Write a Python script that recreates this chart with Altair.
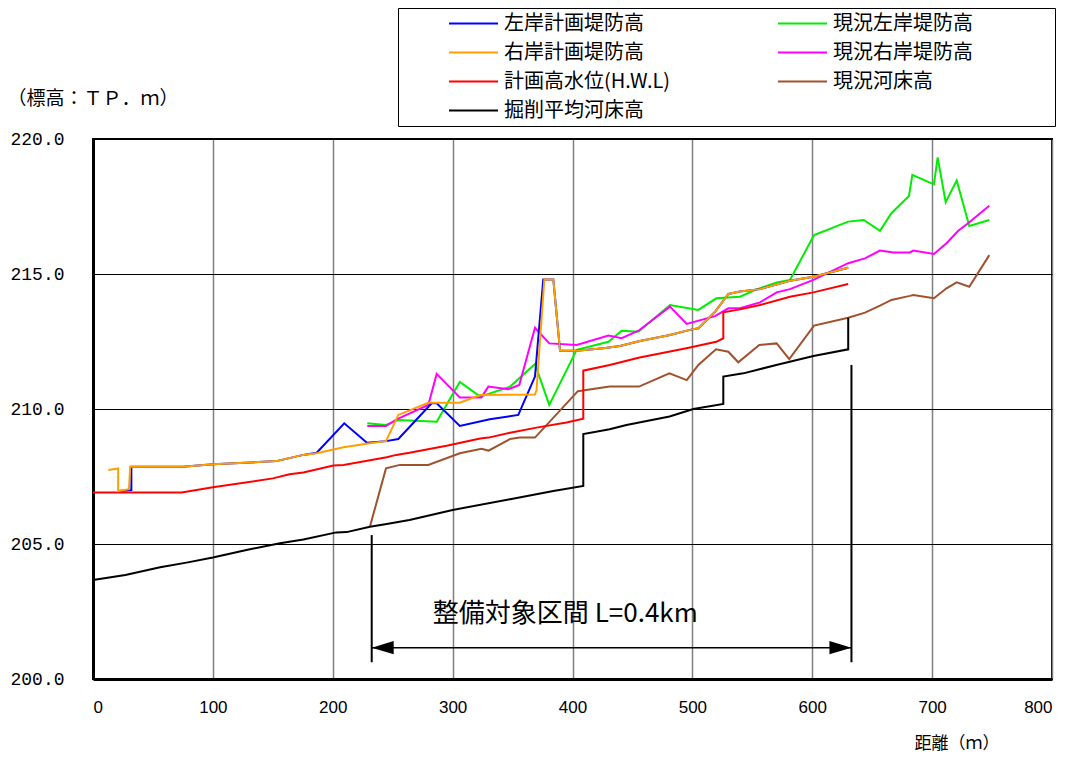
import altair as alt
import pandas as pd

# ---- series names & colours (legend order, filled column by column) ----
SERIES = ["左岸計画堤防高", "右岸計画堤防高", "計画高水位(H.W.L)", "掘削平均河床高",
          "現況左岸堤防高", "現況右岸堤防高", "現況河床高"]
COLORS = ["#0000ff", "#ffa000", "#ff0000", "#000000", "#00ee00", "#ff00ff", "#a0522d"]

# ---- data (distance m, elevation T.P.m) ----
left_plan_x = [21, 32, 32, 75, 100, 153, 175.5, 186.6, 209.6, 228.5, 244.4, 254.7, 282.5, 286.7,
               306, 331, 354.8, 368.7, 375.6, 384, 389.6, 403.5, 425.7, 439.6, 456.3, 481.3, 498,
               505, 518.9, 530, 539.7, 556.4, 581.4, 601, 630]
left_plan_y = [206.96, 207.0, 207.86, 207.86, 207.95, 208.07, 208.3, 208.38, 209.47, 208.75, 208.81,
               208.89, 210.21, 210.21, 209.37, 209.62, 209.78, 211.2, 214.8, 214.8, 212.16, 212.16,
               212.25, 212.33, 212.52, 212.74, 212.93, 212.99, 213.6, 214.26, 214.35, 214.44,
               214.75, 214.9, 215.23]

right_plan_x = [12.8, 21, 21, 30, 31, 75, 100, 153, 175.5, 186.6, 209, 231, 244.4, 254.7, 279.7,
                306, 323, 368.7, 370, 376.5, 384, 389.6, 403.5, 425.7, 439.6, 456.3, 481.3, 498,
                505, 518.9, 530, 539.7, 556.4, 581.4, 601, 630]
right_plan_y = [207.74, 207.8, 206.96, 207.03, 207.86, 207.86, 207.95, 208.07, 208.3, 208.36,
                208.58, 208.73, 208.81, 209.78, 210.23, 210.23, 210.52, 210.54, 210.7, 214.8,
                214.8, 212.16, 212.16, 212.25, 212.33, 212.52, 212.74, 212.93, 212.99, 213.6,
                214.26, 214.35, 214.44, 214.75, 214.9, 215.23]

hwl_x = [0, 74, 100, 150, 164, 175.5, 200.5, 209, 245, 253, 264, 295, 323, 330, 348, 370, 395,
         409, 409, 431, 456, 495, 520, 525.8, 525.8, 539.7, 556.4, 581.4, 601, 630]
hwl_y = [206.91, 206.91, 207.1, 207.43, 207.58, 207.65, 207.91, 207.93, 208.21, 208.3, 208.38,
         208.64, 208.91, 208.94, 209.12, 209.31, 209.5, 209.64, 211.42, 211.63, 211.91, 212.25,
         212.49, 212.62, 213.58, 213.69, 213.85, 214.16, 214.32, 214.63]

excav_x = [0, 27, 56, 78, 100, 128, 156, 175.5, 203, 211.6, 231, 245, 264, 300, 348, 384, 409,
           409, 431, 445, 481, 500.8, 525.8, 525.8, 542.5, 570, 601, 630, 630]
excav_y = [203.67, 203.85, 204.14, 204.31, 204.5, 204.78, 205.03, 205.17, 205.43, 205.44,
           205.64, 205.74, 205.89, 206.26, 206.66, 206.96, 207.15, 209.07, 209.25, 209.41,
           209.72, 210.0, 210.19, 211.2, 211.32, 211.63, 211.96, 212.21, 213.38]

cur_left_x = [228.8, 244.4, 254.7, 286.7, 306, 323, 348, 368.7, 380.6, 403.5, 430, 441, 455,
              481.3, 505, 520, 539.7, 553.6, 570.3, 581.4, 601.5, 630, 643, 656.5, 666, 680.7,
              683.5, 701.5, 704.6, 711.3, 720.5, 731, 747.7]
cur_left_y = [209.47, 209.41, 209.59, 209.53, 211.0, 210.46, 210.83, 211.67, 210.15, 212.19,
              212.49, 212.9, 212.86, 213.85, 213.67, 214.1, 214.16, 214.43, 214.69, 214.78,
              216.44, 216.94, 217.0, 216.6, 217.25, 217.89, 218.67, 218.32, 219.32, 217.66,
              218.46, 216.78, 217.0]

cur_right_x = [228.8, 244.4, 253.3, 279.7, 286.7, 306, 324, 329.8, 346.5, 355.6, 368.7, 380.6,
               403.5, 430, 441, 455, 481.3, 495.3, 518.9, 530, 539.7, 556.4, 570.3, 581.4, 601,
               630, 644, 656.5, 667.6, 681.5, 684.3, 701.5, 712, 721.8, 730, 747.7]
cur_right_y = [209.37, 209.37, 209.62, 210.15, 211.3, 210.43, 210.43, 210.83, 210.73, 210.89,
               213.01, 212.43, 212.37, 212.72, 212.62, 212.9, 213.79, 213.15, 213.44, 213.73,
               213.73, 213.95, 214.32, 214.44, 214.78, 215.4, 215.58, 215.87, 215.8, 215.8,
               215.87, 215.74, 216.14, 216.6, 216.88, 217.53]

bed_x = [231, 244.4, 256, 279.7, 306, 324, 330, 348, 356, 368.7, 404.5, 431, 455.5, 480.8,
         495.3, 505, 519.7, 530, 538.3, 555.8, 570.3, 580.8, 601.5, 630, 644, 656.5, 666, 681.5,
         684.3, 701.5, 712, 720.5, 731, 747.7]
bed_y = [205.64, 207.8, 207.93, 207.93, 208.36, 208.53, 208.46, 208.89, 208.94, 208.94, 210.66,
         210.83, 210.83, 211.32, 211.07, 211.63, 212.21, 212.12, 211.73, 212.37, 212.43, 211.85,
         213.09, 213.38, 213.57, 213.83, 214.04, 214.19, 214.22, 214.1, 214.47, 214.69, 214.53,
         215.7]

# ---- improvement section annotation ----
section_start = 232.5
section_end = 632.7
section_left_top = 205.33
section_right_top = 211.63
section_bottom = 200.62
arrow_level = 201.16
section_label = "整備対象区間 L=0.4km"
label_x = 394
label_y = 202.39

x_ticks = [0, 100, 200, 300, 400, 500, 600, 700, 800]
y_ticks = [200, 205, 210, 215, 220]

# draw order (last on top)
draw = [
    ("現況左岸堤防高", cur_left_x, cur_left_y),
    ("現況右岸堤防高", cur_right_x, cur_right_y),
    ("現況河床高", bed_x, bed_y),
    ("掘削平均河床高", excav_x, excav_y),
    ("計画高水位(H.W.L)", hwl_x, hwl_y),
    ("左岸計画堤防高", left_plan_x, left_plan_y),
    ("右岸計画堤防高", right_plan_x, right_plan_y),
]
rows = []
for name, xs, ys in draw:
    for i, (xv, yv) in enumerate(zip(xs, ys)):
        rows.append({"series": name, "x": xv, "y": yv, "i": i})
df = pd.DataFrame(rows)

xscale = alt.Scale(domain=[0, 800], nice=False)
yscale = alt.Scale(domain=[200, 220], nice=False, zero=False)

x_axis = alt.Axis(values=x_ticks, format="d", title="距離（ｍ）", ticks=False,
                  labelFont="Liberation Sans", labelFontSize=17, labelColor="#000",
                  labelPadding=20, grid=True, gridColor="#808080", gridWidth=1.5,
                  domainColor="#000", domainWidth=3,
                  titleFont="Noto Sans CJK JP", titleFontSize=17, titleFontWeight="normal",
                  titleColor="#000", titleX=906, titleY=64, titleAlign="right",
                  titleBaseline="middle", titleAnchor="end")
y_axis = alt.Axis(values=y_ticks, format=".1f", title="（標高：ＴＰ．ｍ）", ticks=False,
                  labelFont="Liberation Mono", labelFontSize=18, labelColor="#000",
                  labelPadding=29, grid=True, gridColor="#000000", gridWidth=1,
                  domainColor="#000", domainWidth=3,
                  titleFont="Noto Sans CJK JP", titleFontSize=19, titleFontWeight="normal",
                  titleColor="#000", titleAngle=0, titleX=-86, titleY=-41,
                  titleAlign="left", titleBaseline="middle")

legend = alt.Legend(orient="none", legendX=305, legendY=-131, columns=2,
                    symbolType="stroke", symbolSize=2401, symbolStrokeWidth=2,
                    symbolOffset=49, labelOffset=5, clipHeight=29, rowPadding=0,
                    columnPadding=57, padding=1, strokeColor="#000", fillColor="#fff",
                    labelFont="Noto Sans CJK JP", labelFontSize=20, labelColor="#000",
                    labelLimit=400, title="　", titleOrient="right", titlePadding=81,
                    titleFontSize=20)

lines = alt.Chart(df).mark_line(strokeWidth=2).encode(
    x=alt.X("x:Q", scale=xscale, axis=x_axis),
    y=alt.Y("y:Q", scale=yscale, axis=y_axis),
    color=alt.Color("series:N", scale=alt.Scale(domain=SERIES, range=COLORS), legend=legend),
    order=alt.Order("i:Q"),
)

verticals = pd.DataFrame({
    "x": [section_start, section_end],
    "y": [section_left_top, section_right_top],
    "y2": [section_bottom, section_bottom],
})
vrules = alt.Chart(verticals).mark_rule(color="#000", strokeWidth=2).encode(
    x="x:Q", y="y:Q", y2="y2:Q")

arrow_df = pd.DataFrame({"x": [section_start], "x2": [section_end], "y": [arrow_level]})
arrow_line = alt.Chart(arrow_df).mark_rule(color="#000", strokeWidth=1.5).encode(
    x="x:Q", x2="x2:Q", y="y:Q")

heads = pd.DataFrame({"x": [section_start, section_end], "y": [arrow_level, arrow_level],
                      "dir": ["left", "right"]})
head_left = alt.Chart(heads[heads.dir == "left"]).mark_point(
    shape="M0,0 L2,-0.6 L2,0.6 Z", size=484, filled=True, color="#000", opacity=1,
    strokeWidth=0).encode(x="x:Q", y="y:Q")
head_right = alt.Chart(heads[heads.dir == "right"]).mark_point(
    shape="M0,0 L-2,-0.6 L-2,0.6 Z", size=484, filled=True, color="#000", opacity=1,
    strokeWidth=0).encode(x="x:Q", y="y:Q")

label_df = pd.DataFrame({"x": [label_x], "y": [label_y], "t": [section_label]})
label = alt.Chart(label_df).mark_text(font="Noto Sans CJK JP", fontSize=26, color="#000",
                                      align="center", baseline="middle").encode(
    x="x:Q", y="y:Q", text="t:N")

chart = alt.layer(lines, vrules, arrow_line, head_left, head_right, label).properties(
    width=959, height=540,
    autosize=alt.AutoSizeParams(type="none"),
    padding={"left": 85, "top": 131, "right": 15, "bottom": 75},
    background="white",
).configure_view(stroke="#000", strokeWidth=2)

chart.save("out.html", embed_options={"renderer": "svg", "actions": False})
